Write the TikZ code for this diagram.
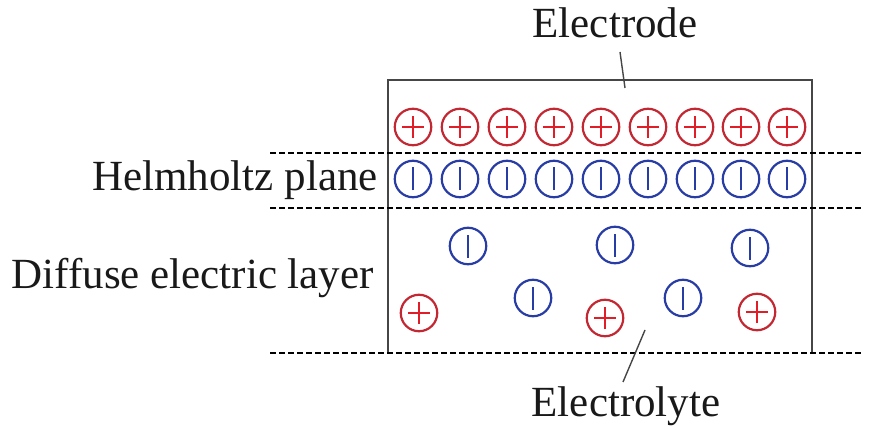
\documentclass[tikz,border=0pt]{standalone}
\usepackage{fontspec}
\setmainfont{Liberation Serif}
\definecolor{ionred}{RGB}{195,40,50}
\definecolor{plusred}{RGB}{225,30,40}
\definecolor{ionblue}{RGB}{40,60,165}
\definecolor{txt}{RGB}{25,25,25}
\definecolor{boxgray}{RGB}{70,70,70}
\begin{document}
\begin{tikzpicture}[x=1pt,y=-1pt,
  label text/.style={font=\fontsize{43}{47}\selectfont, text=txt, inner sep=0pt},
  cation/.style={circle, draw=ionred, line width=2.2pt, minimum size=36.5pt, inner sep=0pt,
    path picture={\draw[plusred, line width=1.7pt]
      ([xshift=-11pt]path picture bounding box.center) -- ([xshift=11pt]path picture bounding box.center)
      ([yshift=-11pt]path picture bounding box.center) -- ([yshift=11pt]path picture bounding box.center);}},
  anion/.style={circle, draw=ionblue, line width=2.2pt, minimum size=36.5pt, inner sep=0pt,
    path picture={\draw[ionblue, line width=1.7pt]
      ([yshift=-11.5pt]path picture bounding box.center) -- ([yshift=11.5pt]path picture bounding box.center);}},
  planeline/.style={line width=1.8pt, dash pattern=on 6pt off 3pt},
  leader/.style={boxgray, line width=1.4pt}
]
\useasboundingbox (0,0) rectangle (874,430);
% electrode box
\coordinate (bl) at (388,353);
\coordinate (tl) at (388,80);
\coordinate (tr) at (812,80);
\coordinate (br) at (812,353);
\draw[boxgray, line width=1.4pt] (bl) -- (tl) -- (tr) -- (br);
% dashed planes
\coordinate (d1a) at (270,153); \coordinate (d1b) at (862,153);
\coordinate (d2a) at (270,208); \coordinate (d2b) at (862,208);
\coordinate (d3a) at (270,353); \coordinate (d3b) at (862,353);
\draw[planeline] (d1a) -- (d1b);
\draw[planeline] (d2a) -- (d2b);
\draw[planeline] (d3a) -- (d3b);
% ion rows
\foreach \x [count=\i] in {413,460,507,554,601,648,695,741,787} {
  \node[cation] (p\i) at (\x,127) {};
  \node[anion] (n\i) at (\x,179) {};
}
% diffuse layer
\node[anion] (da1) at (468,246) {};
\node[anion] (da2) at (615,245) {};
\node[anion] (da3) at (750,248) {};
\node[anion] (da4) at (533,298) {};
\node[anion] (da5) at (683,298) {};
\node[cation] (dc1) at (419,313) {};
\node[cation] (dc2) at (605,318) {};
\node[cation] (dc3) at (757,312) {};
% labels
\node[label text] (electrode) at (615,23) {Electrode};
\node[label text] (electrolyte) at (626,406) {Electrolyte};
\node[label text, anchor=east] (helm) at (378,180) {Helmholtz plane};
\node[label text, anchor=east] (diffuse) at (374,278) {Diffuse electric layer};
% leaders
\coordinate (e1) at (620,52); \coordinate (e2) at (625,88);
\coordinate (l1) at (645,330); \coordinate (l2) at (623,382);
\draw[leader] (e1) -- (e2);
\draw[leader] (l1) -- (l2);
\end{tikzpicture}
\end{document}
